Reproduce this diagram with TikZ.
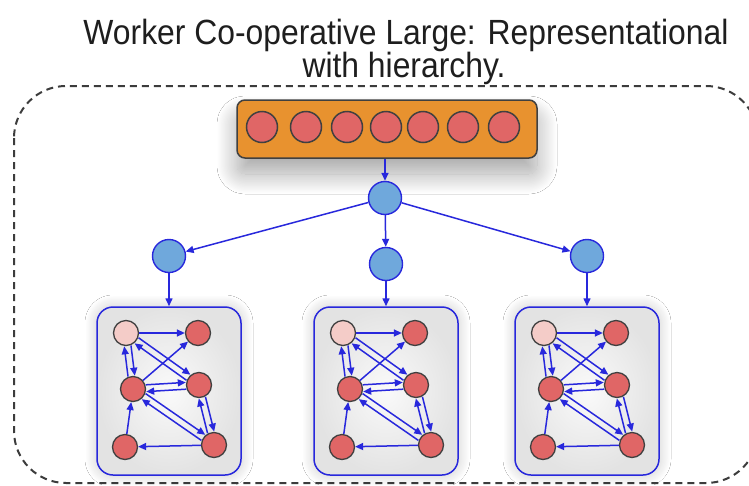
\documentclass[tikz,border=0pt]{standalone}
\usepackage{fontspec}
\newfontfamily\titlefont[FakeStretch=0.91]{Liberation Sans}
\usetikzlibrary{arrows.meta,calc,shadows.blur}
\definecolor{edgeblue}{RGB}{40,40,220}
\definecolor{nodeblue}{RGB}{111,168,220}
\definecolor{nodered}{RGB}{224,102,102}
\definecolor{pinkfill}{RGB}{244,204,200}
\definecolor{barorange}{RGB}{232,146,47}
\definecolor{darkrim}{RGB}{64,64,64}
\definecolor{dashgray}{RGB}{60,60,60}
\definecolor{titlegray}{RGB}{30,30,30}
\tikzset{
  redball/.style={circle,draw=darkrim,line width=1.3pt,fill=nodered,minimum size=25pt,inner sep=0pt},
  pinkball/.style={redball,fill=pinkfill},
  barball/.style={circle,draw=darkrim,line width=1.5pt,fill=nodered,minimum size=31pt,inner sep=0pt},
  bluenode/.style={circle,draw=edgeblue,line width=1.4pt,fill=nodeblue,minimum size=33pt,inner sep=0pt},
  e/.style={draw=edgeblue,line width=1.5pt,-{Triangle[length=8pt,width=7pt]}},
  pe/.style={e,shorten <=13pt,shorten >=13pt},
  groupbox/.style={draw=edgeblue,line width=1.5pt,rounded corners=16pt,minimum width=144pt,minimum height=168pt,inner sep=0pt,
    inner color=gray!4,outer color=gray!22,
    blur shadow={shadow xshift=0pt,shadow yshift=0pt,shadow blur radius=12pt,shadow blur steps=30,shadow opacity=22}},
  titletext/.style={font=\titlefont\fontsize{35}{35}\selectfont,text=titlegray,anchor=base,inner sep=0pt},
}
\newcommand\pairedge[2]{%
  \draw[pe] ($(#1)!3.4pt!90:(#2)$) -- ($(#2)!3.4pt!-90:(#1)$);
  \draw[pe] ($(#2)!3.4pt!90:(#1)$) -- ($(#1)!3.4pt!-90:(#2)$);
}
\newcommand\mycluster[2]{%
  \node[groupbox] (#1box) at (#2+72,391) {};
  \node[pinkball] (#1tl) at (#2+29,333) {};
  \node[redball] (#1tr) at (#2+101,333) {};
  \node[redball] (#1ml) at (#2+36,389) {};
  \node[redball] (#1mr) at (#2+102,385) {};
  \node[redball] (#1bl) at (#2+28,447) {};
  \node[redball] (#1br) at (#2+117,445) {};
  \draw[e] (#1tl) -- (#1tr);
  \draw[e] (#1ml) -- (#1tr);
  \draw[e] (#1bl) -- (#1ml);
  \draw[e] (#1br) -- (#1bl);
  \pairedge{#1tl}{#1ml}
  \pairedge{#1tl}{#1mr}
  \pairedge{#1ml}{#1mr}
  \pairedge{#1ml}{#1br}
  \pairedge{#1mr}{#1br}
}
\begin{document}
\begin{tikzpicture}[x=1pt,y=-1pt]
\useasboundingbox (0,0) rectangle (749,485);
\clip (0,0) rectangle (749,485);
\fill[white] (0,0) rectangle (749,485);
% title
\node[titletext] (title1) at (406,44) {Worker Co-operative Large: Representational};
\node[titletext] (title2) at (404,77) {with hierarchy.};
% outer dashed frame
\draw[dashgray,line width=2pt,dash pattern=on 7pt off 5pt,rounded corners=52pt] (14,86) rectangle (758,483);
% top bar
\node[draw=darkrim,line width=1.5pt,fill=barorange,rounded corners=8pt,minimum width=300pt,minimum height=58pt,inner sep=0pt,
  blur shadow={shadow xshift=0pt,shadow yshift=-16pt,shadow blur radius=20pt,shadow blur steps=30,shadow opacity=35}] (bar) at (387,129) {};
\foreach \i/\x in {1/262,2/306,3/347,4/386,5/423,6/463,7/504}{
  \node[barball] (ball\i) at (\x,127) {};
}
% blue hierarchy
\node[bluenode] (top) at (385,198) {};
\node[bluenode] (bl) at (169,256) {};
\node[bluenode] (bm) at (386,264) {};
\node[bluenode] (br) at (587,256) {};
\draw[e] (bar.south -| top) -- (top);
\draw[e] (top) -- (bl);
\draw[e] (top) -- (bm);
\draw[e] (top) -- (br);
% clusters
\mycluster{ca}{97}
\mycluster{cb}{314}
\mycluster{cc}{515}
\draw[e] (bl) -- (cabox.north);
\draw[e] (bm) -- (cbbox.north);
\draw[e] (br) -- (ccbox.north);
\end{tikzpicture}
\end{document}
